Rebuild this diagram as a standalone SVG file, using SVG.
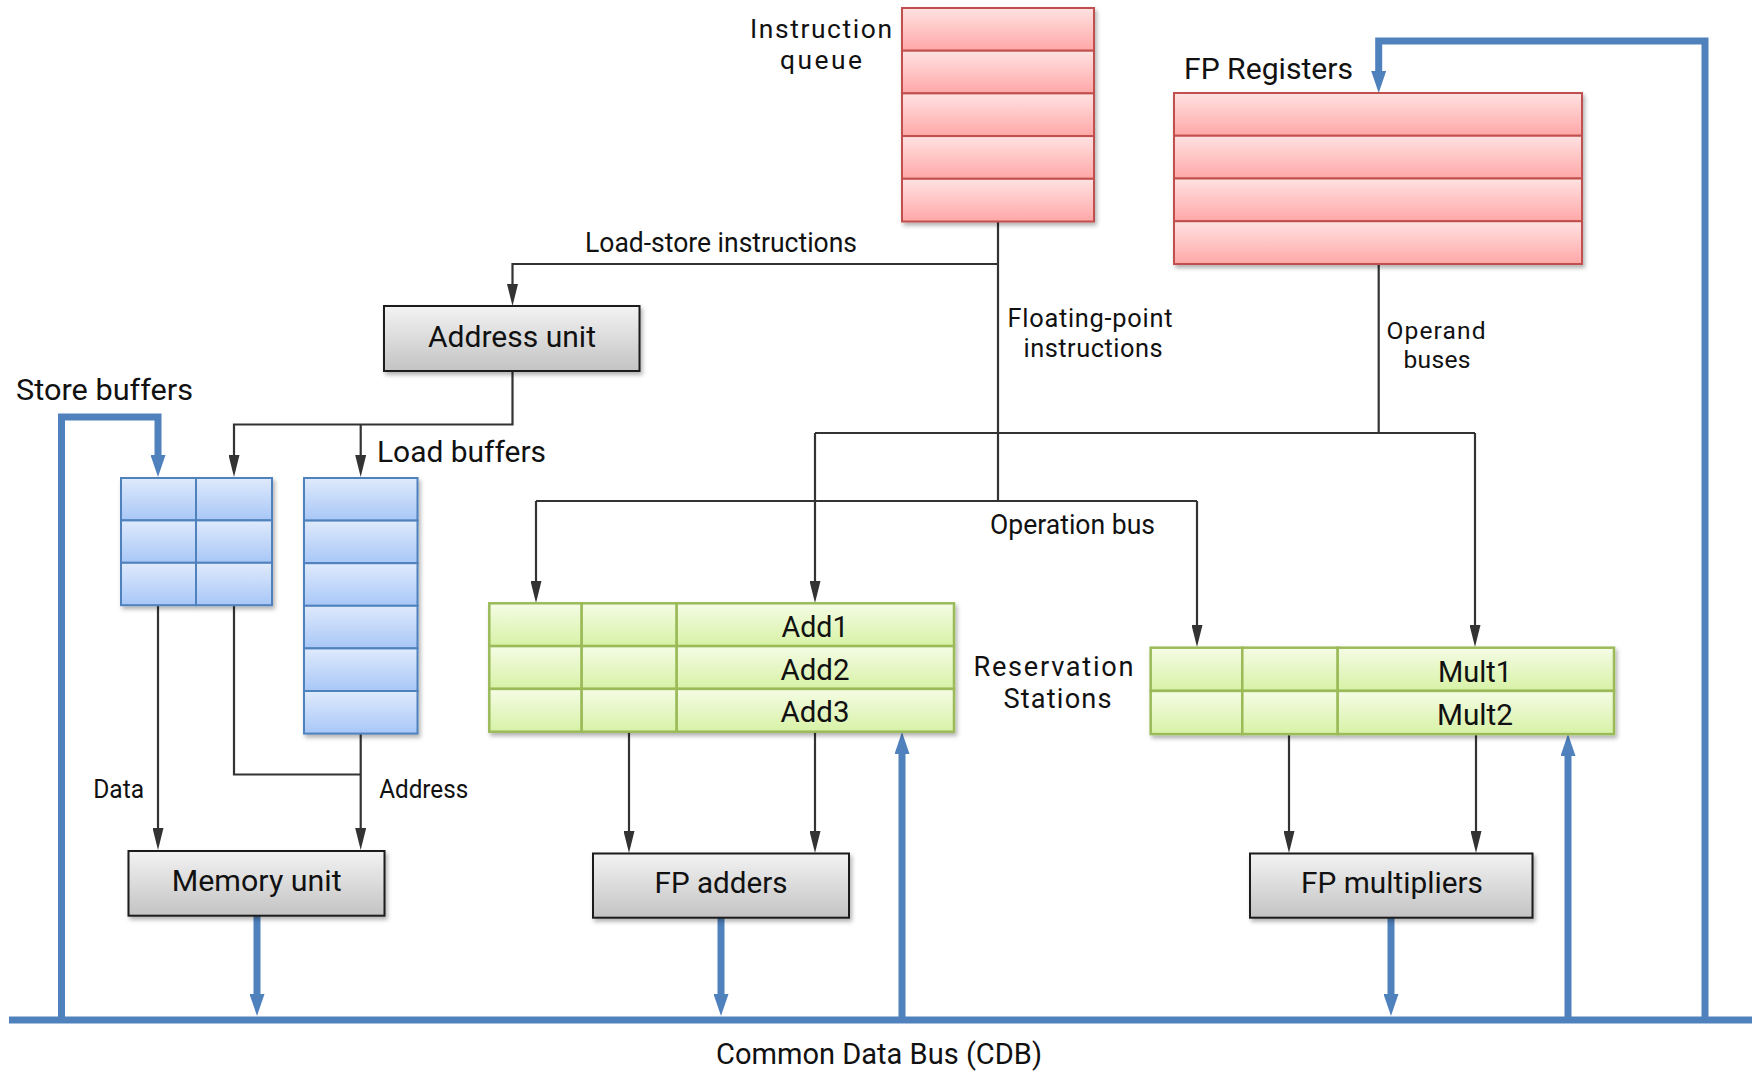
<svg xmlns="http://www.w3.org/2000/svg" width="1759" height="1073" viewBox="0 0 1759 1073">
  <defs>
    <linearGradient id="gRed" x1="0" y1="0" x2="0" y2="1"><stop offset="0" stop-color="#FFE2E2"/><stop offset="1" stop-color="#FFA7A7"/></linearGradient>
    <linearGradient id="gBlue" x1="0" y1="0" x2="0" y2="1"><stop offset="0" stop-color="#DFEAFC"/><stop offset="1" stop-color="#A8C7F7"/></linearGradient>
    <linearGradient id="gGreen" x1="0" y1="0" x2="0" y2="1"><stop offset="0" stop-color="#F5FCE5"/><stop offset="1" stop-color="#D7F2A6"/></linearGradient>
    <linearGradient id="gGrey" x1="0" y1="0" x2="0" y2="1"><stop offset="0" stop-color="#F3F3F3"/><stop offset="1" stop-color="#C3C3C3"/></linearGradient>
    <filter id="sh" x="-10%" y="-10%" width="130%" height="130%">
      <feDropShadow dx="2" dy="3" stdDeviation="2" flood-color="#000" flood-opacity="0.3"/>
    </filter>
    <marker id="ah" markerUnits="userSpaceOnUse" markerWidth="22" markerHeight="11" viewBox="0 0 22 11" refX="16" refY="5.5" orient="auto">
      <path d="M0,0 L22,5.5 L0,11 z" fill="#333"/>
    </marker>
    <marker id="bh" markerUnits="userSpaceOnUse" markerWidth="22" markerHeight="15" viewBox="0 0 22 15" refX="6" refY="7.5" orient="auto">
      <path d="M0,0 L22,7.5 L0,15 z" fill="#4F81BD"/>
    </marker>
    <style>
      .red rect { fill: url(#gRed); stroke: #C0504D; stroke-width: 2; }
      .blue rect { fill: url(#gBlue); stroke: #4F81BD; stroke-width: 2; }
      .green rect { fill: url(#gGreen); stroke: #9BBB59; stroke-width: 2.5; }
      .grey rect { fill: url(#gGrey); stroke: #1A1A1A; stroke-width: 2; }
      .sh { filter: url(#sh); }
      text { font-family: Roboto, "Open Sans", "Liberation Sans", sans-serif; fill: #111; }
      .lg { font-size: 30px; }
      .sm { font-size: 27px; }
      .xs { font-size: 25px; }
      .c { text-anchor: middle; }
      .wire { fill: none; stroke: #333; stroke-width: 2.2; }
      .bus { fill: none; stroke: #4F81BD; stroke-width: 7; stroke-linejoin: miter; }
    </style>
  </defs>
  <rect width="1759" height="1073" fill="#fff"/>

  <g id="connectors">
    <g id="control-wires">
      <path class="wire" d="M998,221 V501"/>
      <path class="wire" d="M998,264 H512.5 V300" marker-end="url(#ah)"/>
      <path class="wire" d="M536,501 H1197"/>
      <path class="wire" d="M536,501 V597" marker-end="url(#ah)"/>
      <path class="wire" d="M1197,501 V641" marker-end="url(#ah)"/>
      <path class="wire" d="M1378.7,264 V433"/>
      <path class="wire" d="M815,433 H1475"/>
      <path class="wire" d="M815,433 V597" marker-end="url(#ah)"/>
      <path class="wire" d="M1475,433 V641" marker-end="url(#ah)"/>
      <path class="wire" d="M512.5,371 V424.5 H234 V471" marker-end="url(#ah)"/>
      <path class="wire" d="M360.7,424.5 V471" marker-end="url(#ah)"/>
      <path class="wire" d="M158,605 V844" marker-end="url(#ah)"/>
      <path class="wire" d="M234,605 V774.5 H360.7"/>
      <path class="wire" d="M360.7,733 V844" marker-end="url(#ah)"/>
      <path class="wire" d="M629,732 V847" marker-end="url(#ah)"/>
      <path class="wire" d="M815,732 V847" marker-end="url(#ah)"/>
      <path class="wire" d="M1289,734 V847" marker-end="url(#ah)"/>
      <path class="wire" d="M1476,734 V847" marker-end="url(#ah)"/>
    </g>
    <g id="data-buses">
      <path class="bus" d="M9,1020 H1752"/>
      <path class="bus" d="M61.5,1020 V417 H158 V461" marker-end="url(#bh)"/>
      <path class="bus" d="M1705,1020 V41 H1378.7 V77" marker-end="url(#bh)"/>
      <path class="bus" d="M902,1020 V748" marker-end="url(#bh)"/>
      <path class="bus" d="M1568,1020 V750" marker-end="url(#bh)"/>
      <path class="bus" d="M257,916 V1000" marker-end="url(#bh)"/>
      <path class="bus" d="M721,918 V1000" marker-end="url(#bh)"/>
      <path class="bus" d="M1391,918 V1000" marker-end="url(#bh)"/>
    </g>
  </g>

  <g id="instruction-queue">
    <g class="red sh">
      <rect x="902" y="8" width="192" height="42.7"/>
      <rect x="902" y="50.7" width="192" height="42.7"/>
      <rect x="902" y="93.4" width="192" height="42.7"/>
      <rect x="902" y="136.1" width="192" height="42.7"/>
      <rect x="902" y="178.8" width="192" height="42.7"/>
    </g>
    <text class="c" style="font-size:26.4px"><tspan x="821" y="37.5" textLength="142" lengthAdjust="spacing">Instruction</tspan><tspan x="821" y="68.5" textLength="82" lengthAdjust="spacing">queue</tspan></text>
  </g>

  <g id="fp-registers">
    <g class="red sh">
      <rect x="1174" y="93" width="408" height="42.75"/>
      <rect x="1174" y="135.75" width="408" height="42.75"/>
      <rect x="1174" y="178.5" width="408" height="42.75"/>
      <rect x="1174" y="221.25" width="408" height="42.75"/>
    </g>
    <text class="lg c" x="1268.5" y="79" textLength="169" lengthAdjust="spacingAndGlyphs">FP Registers</text>
  </g>

  <g id="address-unit">
    <g class="grey sh"><rect x="384" y="306" width="255.5" height="65"/></g>
    <text class="lg c" x="512" y="347" textLength="168" lengthAdjust="spacingAndGlyphs">Address unit</text>
  </g>

  <g id="store-buffers">
    <g class="blue sh">
      <rect x="121" y="478" width="75" height="42.4"/>
      <rect x="121" y="520.4" width="75" height="42.4"/>
      <rect x="121" y="562.8" width="75" height="42.4"/>
      <rect x="196" y="478" width="76" height="42.4"/>
      <rect x="196" y="520.4" width="76" height="42.4"/>
      <rect x="196" y="562.8" width="76" height="42.4"/>
    </g>
    <text class="lg c" x="104.5" y="400" textLength="177" lengthAdjust="spacingAndGlyphs">Store buffers</text>
  </g>

  <g id="load-buffers">
    <g class="blue sh">
      <rect x="304" y="478" width="113.5" height="42.6"/>
      <rect x="304" y="520.6" width="113.5" height="42.6"/>
      <rect x="304" y="563.2" width="113.5" height="42.6"/>
      <rect x="304" y="605.8" width="113.5" height="42.6"/>
      <rect x="304" y="648.4" width="113.5" height="42.6"/>
      <rect x="304" y="691" width="113.5" height="42.6"/>
    </g>
    <text class="lg" x="377" y="462" textLength="169" lengthAdjust="spacingAndGlyphs">Load buffers</text>
  </g>

  <g id="adder-reservation-stations">
    <g class="green sh">
      <rect x="489.3" y="603.3" width="92.4" height="42.8"/>
      <rect x="581.7" y="603.3" width="95" height="42.8"/>
      <rect x="676.7" y="603.3" width="277.3" height="42.8"/>
      <rect x="489.3" y="646.1" width="92.4" height="42.8"/>
      <rect x="581.7" y="646.1" width="95" height="42.8"/>
      <rect x="676.7" y="646.1" width="277.3" height="42.8"/>
      <rect x="489.3" y="688.9" width="92.4" height="42.8"/>
      <rect x="581.7" y="688.9" width="95" height="42.8"/>
      <rect x="676.7" y="688.9" width="277.3" height="42.8"/>
    </g>
    <text class="lg c" x="815" y="637" textLength="67" lengthAdjust="spacingAndGlyphs">Add1</text>
    <text class="lg c" x="815" y="679.5" textLength="69" lengthAdjust="spacingAndGlyphs">Add2</text>
    <text class="lg c" x="815" y="721.5" textLength="69" lengthAdjust="spacingAndGlyphs">Add3</text>
  </g>

  <g id="mult-reservation-stations">
    <g class="green sh">
      <rect x="1150.7" y="647.7" width="91.6" height="43.2"/>
      <rect x="1242.3" y="647.7" width="95.4" height="43.2"/>
      <rect x="1337.7" y="647.7" width="276.3" height="43.2"/>
      <rect x="1150.7" y="690.9" width="91.6" height="43.2"/>
      <rect x="1242.3" y="690.9" width="95.4" height="43.2"/>
      <rect x="1337.7" y="690.9" width="276.3" height="43.2"/>
    </g>
    <text class="lg c" x="1475" y="682" textLength="74" lengthAdjust="spacingAndGlyphs">Mult1</text>
    <text class="lg c" x="1475" y="725" textLength="76" lengthAdjust="spacingAndGlyphs">Mult2</text>
  </g>

  <g id="memory-unit">
    <g class="grey sh"><rect x="128.5" y="851" width="256" height="64.7"/></g>
    <text class="lg c" x="256.7" y="891" textLength="170" lengthAdjust="spacingAndGlyphs">Memory unit</text>
  </g>

  <g id="fp-adders">
    <g class="grey sh"><rect x="593" y="853.5" width="256" height="64.2"/></g>
    <text class="lg c" x="721" y="893" textLength="133" lengthAdjust="spacingAndGlyphs">FP adders</text>
  </g>

  <g id="fp-multipliers">
    <g class="grey sh"><rect x="1250" y="853.5" width="282.5" height="64.2"/></g>
    <text class="lg c" x="1392" y="893" textLength="182" lengthAdjust="spacingAndGlyphs">FP multipliers</text>
  </g>

  <g id="labels">
    <text class="sm c" x="721" y="251.5" textLength="272" lengthAdjust="spacingAndGlyphs">Load-store instructions</text>
    <text class="c" style="font-size:25.4px"><tspan x="1090" y="327" textLength="165" lengthAdjust="spacing">Floating-point</tspan><tspan x="1093" y="357" textLength="139" lengthAdjust="spacing">instructions</tspan></text>
    <text class="c" style="font-size:24.6px"><tspan x="1436" y="339" textLength="99" lengthAdjust="spacing">Operand</tspan><tspan x="1437" y="368" textLength="67" lengthAdjust="spacing">buses</tspan></text>
    <text class="sm c" x="1072.5" y="534" textLength="165" lengthAdjust="spacingAndGlyphs">Operation bus</text>
    <text class="c" style="font-size:27.2px"><tspan x="1053.5" y="676" textLength="160" lengthAdjust="spacing">Reservation</tspan><tspan x="1057.5" y="708" textLength="108" lengthAdjust="spacing">Stations</tspan></text>
    <text class="xs c" x="118.7" y="798" textLength="51" lengthAdjust="spacingAndGlyphs">Data</text>
    <text class="xs c" x="423.7" y="798" textLength="89" lengthAdjust="spacingAndGlyphs">Address</text>
    <text class="lg c" x="879" y="1064" textLength="326" lengthAdjust="spacingAndGlyphs">Common Data Bus (CDB)</text>
  </g>
</svg>
